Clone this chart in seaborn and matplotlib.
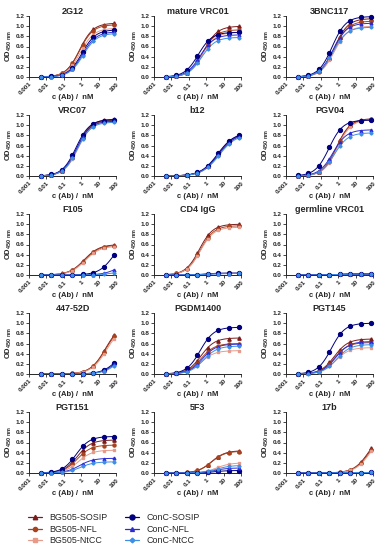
import numpy as np
import pandas as pd
import matplotlib
matplotlib.use("Agg")
import matplotlib.pyplot as plt
from matplotlib.lines import Line2D
import seaborn as sns

# --- series and styling ---
SERIES = ['BG505-SOSIP', 'BG505-NFL', 'BG505-NtCC', 'ConC-SOSIP', 'ConC-NFL', 'ConC-NtCC']
COLORS = ['#7b1c1c', '#a8431d', '#e79a8a', '#000080', '#2b2bd6', '#3d8fe6']
MARKERS = ['^', 'o', 's', 'o', '^', 'D']
MSIZES = [2.4, 2.2, 2.0, 2.8, 2.0, 1.6]

# antibody concentrations (nM), 4-fold dilution from 80 nM
CONC = [80, 20, 5, 1.25, 0.3125, 0.078, 0.0195, 0.0049]

PANELS = ['2G12', 'mature VRC01', '3BNC117',
          'VRC07', 'b12', 'PGV04',
          'F105', 'CD4 IgG', 'germline VRC01',
          '447-52D', 'PGDM1400', 'PGT145',
          'PGT151', '5F3', '17b']

# fitted plateau (top), EC50 in nM, hill slope per panel; order follows SERIES
TOP = {
    '2G12':           [1.06, 1.03, 0.96, 0.93, 0.89, 0.86],
    'mature VRC01':   [1.00, 0.93, 0.88, 0.88, 0.83, 0.78],
    '3BNC117':        [1.15, 1.10, 1.00, 1.19, 1.06, 0.98],
    'VRC07':          [1.12, 1.10, 1.08, 1.11, 1.08, 1.06],
    'b12':            [0.86, 0.85, 0.84, 0.86, 0.84, 0.82],
    'PGV04':          [1.13, 1.12, 1.11, 1.10, 0.91, 0.85],
    'F105':           [0.60, 0.59, 0.57, 0.80, 0.30, 0.10],
    'CD4 IgG':        [1.00, 0.97, 0.94, 0.04, 0.03, 0.03],
    'germline VRC01': [0.02, 0.02, 0.02, 0.02, 0.02, 0.02],
    '447-52D':        [1.00, 0.97, 0.94, 0.55, 0.50, 0.45],
    'PGDM1400':       [0.71, 0.60, 0.46, 0.92, 0.59, 0.55],
    'PGT145':         [0.69, 0.62, 0.52, 1.00, 0.64, 0.58],
    'PGT151':         [0.65, 0.55, 0.45, 0.72, 0.29, 0.22],
    '5F3':            [0.44, 0.43, 0.20, 0.05, 0.10, 0.15],
    '17b':            [0.85, 0.83, 0.80, 0.01, 0.01, 0.01],
}
EC50 = {
    '2G12':           [0.8, 0.8, 0.9, 1.1, 1.2, 1.3],
    'mature VRC01':   [0.7, 0.6, 0.6, 0.35, 0.45, 0.55],
    '3BNC117':        [0.6, 0.6, 0.6, 0.45, 0.5, 0.5],
    'VRC07':          [0.6, 0.6, 0.65, 0.5, 0.55, 0.6],
    'b12':            [5.0, 5.0, 5.5, 4.5, 5.0, 5.5],
    'PGV04':          [0.8, 0.8, 0.9, 0.3, 0.5, 0.6],
    'F105':           [1.5, 1.6, 1.7, 80.0, 150.0, 100.0],
    'CD4 IgG':        [0.4, 0.45, 0.45, 1.0, 1.0, 1.0],
    'germline VRC01': [1.0, 1.0, 1.0, 1.0, 1.0, 1.0],
    '447-52D':        [25.0, 25.0, 28.0, 120.0, 130.0, 140.0],
    'PGDM1400':       [0.5, 0.5, 0.5, 0.45, 0.6, 0.7],
    'PGT145':         [0.6, 0.6, 0.7, 0.4, 0.7, 0.8],
    'PGT151':         [0.6, 0.6, 0.7, 0.5, 0.8, 0.9],
    '5F3':            [2.0, 2.0, 4.0, 3.0, 3.0, 4.0],
    '17b':            [60.0, 65.0, 70.0, 1.0, 1.0, 1.0],
}
HILL = {'b12': 0.9, 'F105': 1.0, '447-52D': 1.0, '17b': 1.0}

X_TICKS = [0.001, 0.01, 0.1, 1, 10, 100]
X_TICKLABELS = ['0.001', '0.01', '0.1', '1', '10', '100']
Y_TICKS = [0.0, 0.2, 0.4, 0.6, 0.8, 1.0, 1.2]

W, H = 386, 550
COL_LEFT = [29, 154, 286]
ROW_TOP = [16, 115, 214, 313, 412]
AX_W, AX_H = 87, 61


def logistic(x, top, ec50, hill):
    return top / (1.0 + (ec50 / x) ** hill)


def main():
    sns.set_style('ticks')
    plt.rcParams['font.family'] = ['Liberation Sans', 'DejaVu Sans']

    fig = plt.figure(figsize=(W / 100, H / 100), dpi=100)
    xs = np.logspace(np.log10(0.0049), np.log10(80), 120)
    conc = np.array(CONC)

    for i, name in enumerate(PANELS):
        r, c = divmod(i, 3)
        ax = fig.add_axes([COL_LEFT[c] / W, 1 - (ROW_TOP[r] + AX_H) / H,
                           AX_W / W, AX_H / H])
        hill = HILL.get(name, 1.1)
        for k, s in enumerate(SERIES):
            top, ec = TOP[name][k], EC50[name][k]
            df = pd.DataFrame({'c': xs, 'od': logistic(xs, top, ec, hill)})
            sns.lineplot(data=df, x='c', y='od', color=COLORS[k], lw=0.7, ax=ax)
            ax.plot(conc, logistic(conc, top, ec, hill), ls='none',
                    marker=MARKERS[k], ms=MSIZES[k], color=COLORS[k],
                    mec=COLORS[k], clip_on=False, zorder=3)

        ax.set_xscale('log')
        ax.set_xlim(0.001, 100)
        ax.set_ylim(0, 1.2)
        ax.set_xticks(X_TICKS)
        ax.set_xticklabels(X_TICKLABELS, rotation=45, ha='right',
                           rotation_mode='anchor', fontsize=4.6, fontweight='bold')
        ax.xaxis.set_minor_locator(matplotlib.ticker.NullLocator())
        ax.set_yticks(Y_TICKS)
        ax.set_yticklabels([f'{v:.1f}' for v in Y_TICKS], fontsize=4.6, fontweight='bold')
        ax.tick_params(length=2, width=0.6, pad=1.2)
        for sp in ['left', 'bottom']:
            ax.spines[sp].set_linewidth(0.7)
        sns.despine(ax=ax)
        ax.set_title(name, fontsize=6.5, fontweight='bold', pad=0.5)
        ax.set_xlabel('c (Ab) /  nM', fontsize=5.5, fontweight='bold', labelpad=-1.5)
        ax.set_ylabel('OD$_{\\mathregular{450\\ nm}}$', fontsize=5.5,
                      fontweight='bold', labelpad=1)

    handles = [Line2D([0], [0], color=COLORS[k], marker=MARKERS[k], ms=MSIZES[k] + 0.8,
                      lw=0.9) for k in range(len(SERIES))]
    fig.legend(handles, SERIES, loc='upper left', bbox_to_anchor=(20 / W, 1 - 505 / H),
               ncol=2, frameon=False, fontsize=6.4, handlelength=1.6,
               handletextpad=0.8, columnspacing=2.0, labelspacing=0.3)

    fig.savefig('out.png', dpi=100)
    plt.close(fig)


if __name__ == '__main__':
    main()
